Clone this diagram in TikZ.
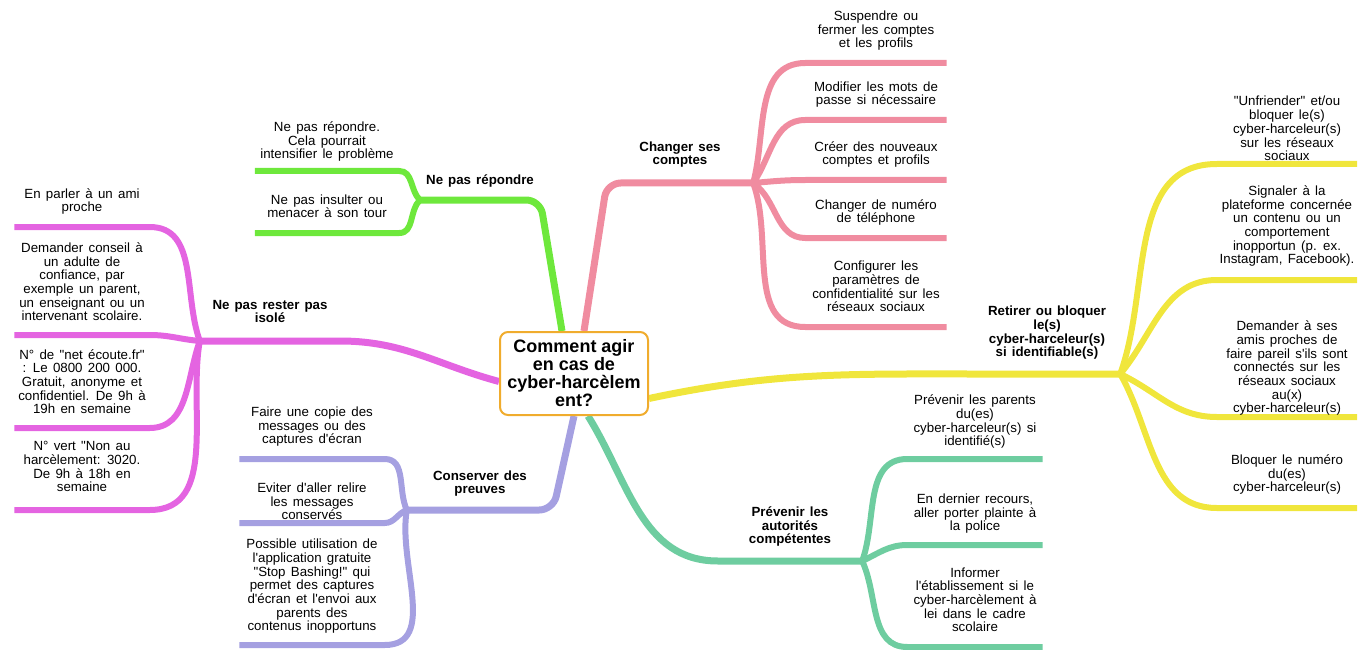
\documentclass[tikz,border=0pt]{standalone}
\usepackage{fontspec}
\setmainfont{Liberation Sans}[Ligatures=TeXOff]
\usetikzlibrary{backgrounds}
\definecolor{cvert}{RGB}{110,232,60}
\definecolor{crose}{RGB}{240,140,160}
\definecolor{cjaune}{RGB}{240,230,60}
\definecolor{cmenthe}{RGB}{110,205,160}
\definecolor{clavande}{RGB}{165,160,225}
\definecolor{cfuchsia}{RGB}{228,100,225}
\definecolor{cambre}{RGB}{240,172,45}
\newcommand{\leaffont}{\fontsize{13.3}{13.7}\selectfont\spaceskip 0.4em\relax}
\newcommand{\topicfont}{\bfseries\fontsize{13.3}{13.7}\selectfont\spaceskip 0.38em\relax}
\tikzset{root/.style = {draw = cambre, line width = 2pt, rounded corners = 8pt, fill = white, align = center, minimum width = 148pt, minimum height = 83pt, inner sep = 2pt, font = \bfseries\fontsize{18}{18}\selectfont},
         topic/.style = {anchor = south, align = center, inner xsep = 0pt, inner ysep = 14pt, text depth = 3pt, font = \topicfont},
         leaf/.style = {anchor = south, align = center, inner xsep = 0pt, inner ysep = 12pt, text depth = 3pt, font = \leaffont},
         branch/.style = {line width = 7pt},
         twig/.style = {line width = 6pt}}
\begin{document}
\begin{tikzpicture}[x=1pt, y=-1pt]
    \useasboundingbox (0,0) rectangle (1366,650);
    \node (root) at (574,373.5) [root] {Comment agir\\en cas de\\cyber-harcèlem\\ent?};

    \node (repondre) at (480,200) [topic, minimum width = 120pt, inner ysep = 12pt] {Ne pas répondre};
    \node (g1) at (327,171) [leaf, minimum width = 144pt, inner ysep = 9pt] {Ne pas répondre.\\Cela pourrait\\intensifier le problème};
    \node (g2) at (327,233) [leaf, minimum width = 144pt] {Ne pas insulter ou\\menacer à son tour};

    \node (comptes) at (680,183) [topic, minimum width = 146pt, inner ysep = 15pt] {Changer ses\\comptes};
    \node (p1) at (876,63) [leaf, minimum width = 141pt] {Suspendre ou\\fermer les comptes\\et les profils};
    \node (p2) at (876,120) [leaf, minimum width = 141pt] {Modifier les mots de\\passe si nécessaire};
    \node (p3) at (876,180) [leaf, minimum width = 141pt] {Créer des nouveaux\\comptes et profils};
    \node (p4) at (876,238) [leaf, minimum width = 141pt] {Changer de numéro\\de téléphone};
    \node (p5) at (876,327) [leaf, minimum width = 141pt] {Configurer les\\paramètres de\\confidentialité sur les\\réseaux sociaux};

    \node (retirer) at (1047,374) [topic, minimum width = 146pt] {Retirer ou bloquer\\le(s)\\cyber-harceleur(s)\\si identifiable(s)};
    \node (y1) at (1287,164) [leaf, minimum width = 140pt, inner ysep = 0pt] {"Unfriender" et/ou\\bloquer le(s)\\cyber-harceleur(s)\\sur les réseaux\\sociaux};
    \node (y2) at (1287,280) [leaf, minimum width = 140pt, inner ysep = 13pt] {Signaler à la\\plateforme concernée\\un contenu ou un\\comportement\\inopportun (p. ex.\\Instagram, Facebook).};
    \node (y3) at (1287,417) [leaf, minimum width = 140pt, inner ysep = 1pt] {Demander à ses\\amis proches de\\faire pareil s'ils sont\\connectés sur les\\réseaux sociaux\\au(x)\\cyber-harceleur(s)};
    \node (y4) at (1287,508) [leaf, minimum width = 140pt, inner ysep = 13pt] {Bloquer le numéro\\du(es)\\cyber-harceleur(s)};

    \node (autorites) at (790,561) [topic, minimum width = 144pt] {Prévenir les\\autorités\\compétentes};
    \node (t1) at (975,459) [leaf, minimum width = 135pt, inner ysep = 10pt] {Prévenir les parents\\du(es)\\cyber-harceleur(s) si\\identifié(s)};
    \node (t2) at (975,545) [leaf, minimum width = 135pt, inner ysep = 11pt] {En dernier recours,\\aller porter plainte à\\la police};
    \node (t3) at (975,647) [leaf, minimum width = 135pt] {Informer\\l'établissement si le\\cyber-harcèlement à\\lei dans le cadre\\scolaire};

    \node (preuves) at (480,510) [topic, minimum width = 146pt, inner ysep = 13pt] {Conserver des\\preuves};
    \node (u1) at (312,459) [leaf, minimum width = 145pt] {Faire une copie des\\messages ou des\\captures d'écran};
    \node (u2) at (312,523) [leaf, minimum width = 145pt, inner ysep = 0pt] {Eviter d'aller relire\\les messages\\conservés};
    \node (u3) at (312,645) [leaf, minimum width = 145pt, inner ysep = 11pt] {Possible utilisation de\\l'application gratuite\\"Stop Bashing!" qui\\permet des captures\\d'écran et l'envoi aux\\parents des\\contenus inopportuns};

    \node (isole) at (270,341) [topic, minimum width = 140pt, inner ysep = 15pt] {Ne pas rester pas\\isolé};
    \node (m1) at (82,227) [leaf, minimum width = 135pt] {En parler à un ami\\proche};
    \node (m2) at (82,335) [leaf, minimum width = 135pt, inner ysep = 11pt] {Demander conseil à\\un adulte de\\confiance, par\\exemple un parent,\\un enseignant ou un\\intervenant scolaire.};
    \node (m3) at (82,428) [leaf, minimum width = 135pt, inner ysep = 11pt] {N° de "net écoute.fr"\\: Le 0800 200 000.\\Gratuit, anonyme et\\confidentiel. De 9h à\\19h en semaine};
    \node (m4) at (82,510) [leaf, minimum width = 135pt, inner ysep = 15pt] {N° vert "Non au\\harcèlement: 3020.\\De 9h à 18h en\\semaine};

    \begin{scope}[on background layer]
    \draw [cvert, branch, rounded corners = 14pt] ([xshift = -12pt]root.north) -- (repondre.south east) -- (repondre.south west);
    \draw [cvert, twig] (repondre.south west) to [out = 135, in = 0] (g1.south east) -- (g1.south west);
    \draw [cvert, twig] (repondre.south west) to [out = 225, in = 0] (g2.south east) -- (g2.south west);

    \draw [crose, branch, rounded corners = 14pt] ([xshift = 10pt]root.north) -- (comptes.south west) -- (comptes.south east);
    \draw [crose, twig] (comptes.south east) to [out = 75, in = 180] (p1.south west) -- (p1.south east);
    \draw [crose, twig] (comptes.south east) to [out = 55, in = 180] (p2.south west) -- (p2.south east);
    \draw [crose, twig] (comptes.south east) to [out = 5, in = 180] (p3.south west) -- (p3.south east);
    \draw [crose, twig] (comptes.south east) to [out = -35, in = 180] (p4.south west) -- (p4.south east);
    \draw [crose, twig] (comptes.south east) to [out = -70, in = 180] (p5.south west) -- (p5.south east);

    \draw [cjaune, branch] ([yshift = -25pt]root.east) to [out = 12, in = 180] (retirer.south west) -- (retirer.south east);
    \draw [cjaune, twig] (retirer.south east) to [out = 70, in = 180] (y1.south west) -- (y1.south east);
    \draw [cjaune, twig] (retirer.south east) to [out = 50, in = 180] (y2.south west) -- (y2.south east);
    \draw [cjaune, twig] (retirer.south east) to [out = -25, in = 180] (y3.south west) -- (y3.south east);
    \draw [cjaune, twig] (retirer.south east) to [out = -60, in = 180] (y4.south west) -- (y4.south east);

    \draw [cmenthe, branch] ([xshift = 14pt]root.south) to [out = -58, in = 180] (autorites.south west) -- (autorites.south east);
    \draw [cmenthe, twig] (autorites.south east) to [out = 70, in = 180] (t1.south west) -- (t1.south east);
    \draw [cmenthe, twig] (autorites.south east) to [out = 25, in = 180] (t2.south west) -- (t2.south east);
    \draw [cmenthe, twig] (autorites.south east) to [out = -65, in = 180] (t3.south west) -- (t3.south east);

    \draw [clavande, branch, rounded corners = 14pt] (root.south) -- (preuves.south east) -- (preuves.south west);
    \draw [clavande, twig] (preuves.south west) to [out = 115, in = 0] (u1.south east) -- (u1.south west);
    \draw [clavande, twig] (preuves.south west) to [out = 200, in = 0] (u2.south east) -- (u2.south west);
    \draw [clavande, twig] (preuves.south west) to [out = 260, in = 0] (u3.south east) -- (u3.south west);

    \draw [cfuchsia, branch] ([yshift = -8pt]root.west) to [out = 165, in = 0] (isole.south east) -- (isole.south west);
    \draw [cfuchsia, twig] (isole.south west) to [out = 110, in = 0] (m1.south east) -- (m1.south west);
    \draw [cfuchsia, twig] (isole.south west) to [out = 175, in = 0] (m2.south east) -- (m2.south west);
    \draw [cfuchsia, twig] (isole.south west) to [out = 250, in = 0] (m3.south east) -- (m3.south west);
    \draw [cfuchsia, twig] (isole.south west) to [out = 260, in = 0] (m4.south east) -- (m4.south west);
    \end{scope}
\end{tikzpicture}
\end{document}
